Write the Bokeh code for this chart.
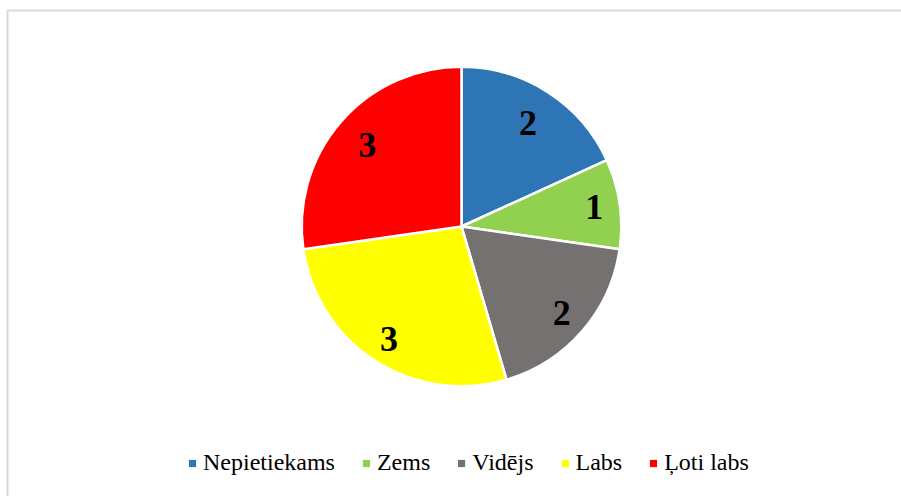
import math
from bokeh.plotting import figure
from bokeh.models import ColumnDataSource, Legend, LegendItem, Range1d
from bokeh.core.properties import value
from bokeh.embed import file_html
from bokeh.resources import INLINE

# ---- data ----
categories = ["Nepietiekams", "Zems", "Vidējs", "Labs", "Ļoti labs"]
counts = [2, 1, 2, 3, 3]
colors = ["#2E75B6", "#92D050", "#767171", "#FFFF00", "#FF0000"]

# ---- layout / style ----
W, H = 901, 496
CX, CY, R = 461, 270, 159.75
LABEL_R = [0.77, 0.84, 0.83, 0.84, 0.78]   # label distance as fraction of radius
FONT = "Liberation Serif"

total = sum(counts)
starts, ends, lx, ly = [], [], [], []
cum = 0
for c, f in zip(counts, LABEL_R):
    a0 = math.pi / 2 - 2 * math.pi * cum / total
    cum += c
    a1 = math.pi / 2 - 2 * math.pi * cum / total
    starts.append(a1)
    ends.append(a0)
    mid = (a0 + a1) / 2
    lx.append(CX + f * R * math.cos(mid))
    ly.append(CY + f * R * math.sin(mid))

src = ColumnDataSource(dict(
    cat=categories, count=counts, color=colors,
    start=starts, end=ends, lx=lx, ly=ly,
    label=[str(c) for c in counts],
    px=[CX] * len(counts), py=[CY] * len(counts),
))

p = figure(width=W, height=H, output_backend="svg", toolbar_location=None,
           x_range=Range1d(0, W), y_range=Range1d(0, H),
           x_axis_type=None, y_axis_type=None, min_border=0,
           background_fill_color="white", border_fill_color="white")
p.grid.visible = False
p.outline_line_color = None

# chart border (left + top visible)
p.line(x=[7, 7, W], y=[0, H - 10, H - 10], line_color="#d9d9d9", line_width=2)

p.wedge(x=CX, y=CY, radius=R, start_angle="start", end_angle="end",
        direction="anticlock", fill_color="color", line_color="white",
        line_width=2.5, source=src)

p.text(x="lx", y="ly", text="label", source=src,
       text_font=value(FONT), text_font_style="bold", text_font_size="36px",
       text_align="center", text_baseline="middle", text_color="black")

proxy = p.scatter(x="px", y="py", size=0, marker="square", fill_color="color",
                  line_color=None, source=src)

legend = Legend(
    items=[LegendItem(label=categories[i], renderers=[proxy], index=i)
           for i in range(len(categories))],
    orientation="horizontal", location=(183, 20),
    glyph_width=18, glyph_height=18, label_standoff=2, spacing=22,
    padding=0, margin=0, border_line_color=None, background_fill_alpha=0,
    label_text_font=FONT, label_text_font_size="24px", label_text_color="black",
    label_height=18,
)
p.add_layout(legend)

open("out.html", "w").write(file_html(p, INLINE))
